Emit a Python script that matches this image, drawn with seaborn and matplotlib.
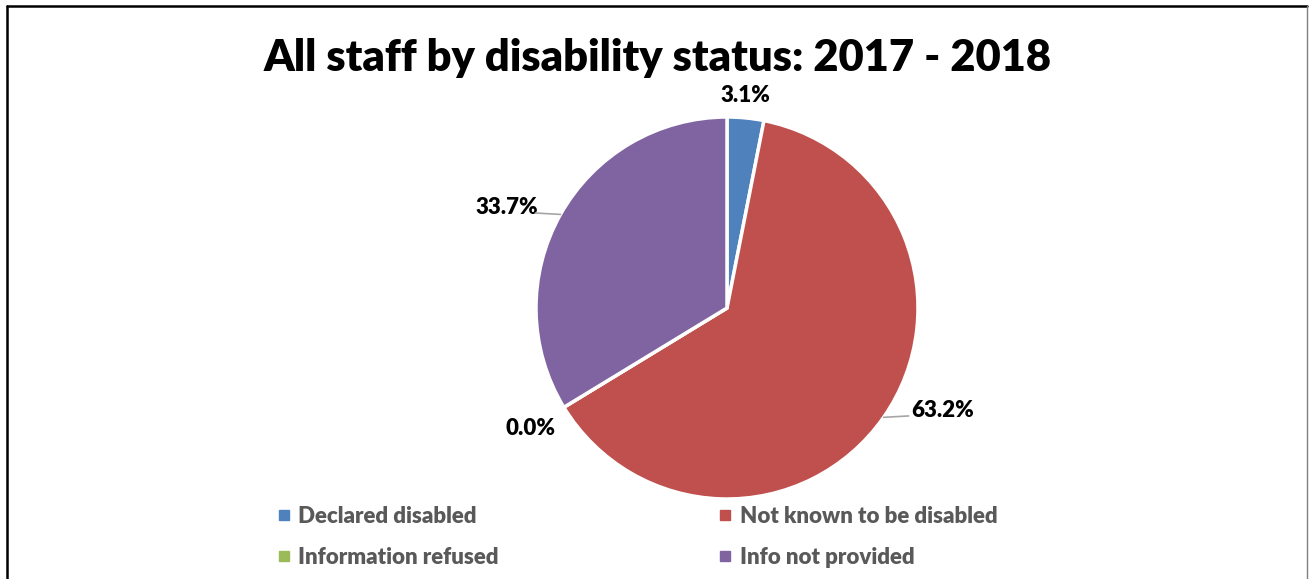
import numpy as np
import matplotlib
matplotlib.use("Agg")
import matplotlib.pyplot as plt
from matplotlib.lines import Line2D
import seaborn as sns

# Data
categories = ["Declared disabled", "Not known to be disabled",
              "Information refused", "Info not provided"]
shares = [3.1, 63.2, 0.0, 33.7]
colors = ["#4F81BD", "#C0504D", "#9BBB59", "#8064A2"]
title = "All staff by disability status: 2017 - 2018"

sns.set_theme(style="white")
plt.rcParams["font.family"] = ["Lato", "DejaVu Sans"]

W, H = 1309, 579
fig = plt.figure(figsize=(W / 100, H / 100), dpi=100)

# Pie axes: centre (727, 308) px, radius 191 px, limits +-1.2
cx, cy, R = 727, 308, 191
half = 1.2 * R
ax = fig.add_axes([(cx - half) / W, (H - cy - half) / H, 2 * half / W, 2 * half / H])
wedges, _ = ax.pie(shares, colors=colors, startangle=90, counterclock=False,
                   radius=1.0, wedgeprops=dict(edgecolor="white", linewidth=2.5))
ax.set_xlim(-1.2, 1.2)
ax.set_ylim(-1.2, 1.2)
ax.set_aspect("equal")
ax.axis("off")

# Label placement: offset from wedge edge (points), alignment, leader line
label_style = [
    dict(off=(0, 16), ha="center", leader=False),
    dict(off=(20, 5), ha="left", leader=True),
    dict(off=(-24, -15), ha="center", leader=False),
    dict(off=(-16, 5), ha="right", leader=True),
]
for w, val, st in zip(wedges, shares, label_style):
    mid = np.deg2rad((w.theta1 + w.theta2) / 2)
    ex, ey = np.cos(mid), np.sin(mid)
    ax.annotate(f"{val:.1f}%", xy=(ex, ey), xytext=st["off"],
                textcoords="offset points", ha=st["ha"], va="center",
                fontsize=16, fontweight="heavy", color="black")
    if st["leader"]:
        sgn = 1 if st["ha"] == "left" else -1
        ax.annotate("", xy=(ex, ey), xytext=(sgn * 18, 1),
                    textcoords="offset points",
                    arrowprops=dict(arrowstyle="-", color="#A6A6A6", lw=1.2,
                                    shrinkA=0, shrinkB=0))

fig.text(658 / W, 1 - 58 / H, title, ha="center", va="center",
         fontsize=31.3, fontweight="heavy", color="black")

# Legend filled row by row: reorder for matplotlib's column-major layout
order = [0, 2, 1, 3]
handles = [Line2D([0], [0], marker="s", linestyle="none", markersize=7.5,
                  markerfacecolor=colors[i], markeredgecolor=colors[i]) for i in order]
leg = fig.legend(handles, [categories[i] for i in order], ncol=2, loc="center left",
                 bbox_to_anchor=(267 / W, 1 - 537 / H), frameon=False,
                 handlelength=0.5, handletextpad=0.4, columnspacing=9.95,
                 labelspacing=0.9, borderpad=0,
                 prop=dict(size=16, weight="heavy"))
for t in leg.get_texts():
    t.set_color("#595959")

# Chart frame
fig.add_artist(Line2D([7 / W, 7 / W], [-0.1, 1 - 6 / H], transform=fig.transFigure,
                      color="black", lw=1.8))
fig.add_artist(Line2D([7 / W, 1307 / W], [1 - 6 / H, 1 - 6 / H], transform=fig.transFigure,
                      color="black", lw=1.8))
fig.add_artist(Line2D([1307 / W, 1307 / W], [-0.1, 1 - 6 / H], transform=fig.transFigure,
                      color="#808080", lw=1.0))

fig.savefig("out.png", dpi=100)
